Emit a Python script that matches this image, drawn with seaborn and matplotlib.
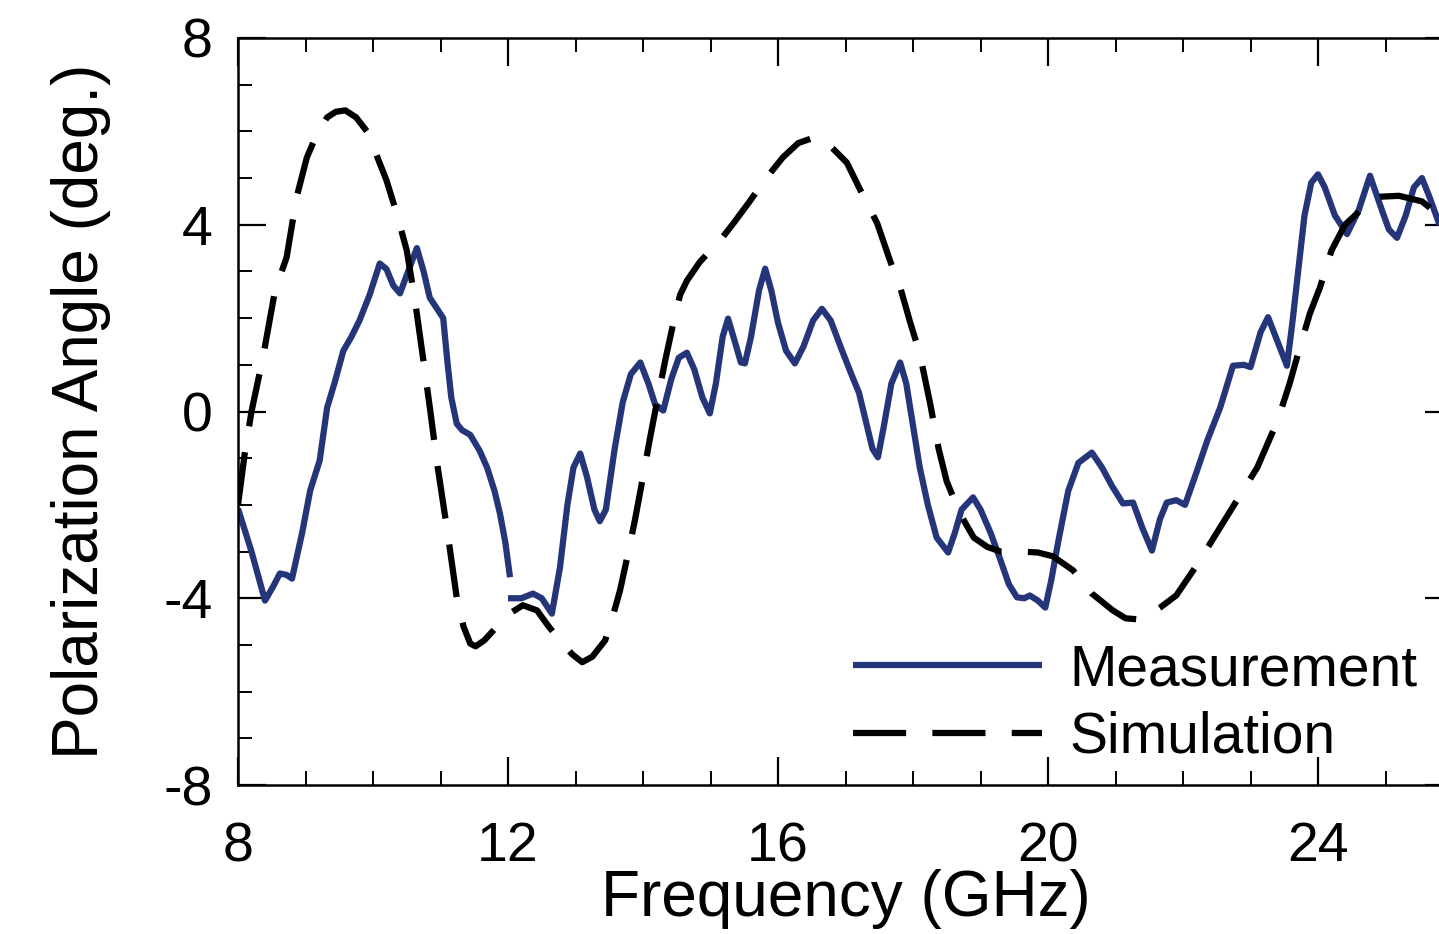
import numpy as np
import pandas as pd
import matplotlib
matplotlib.use("Agg")
import matplotlib.pyplot as plt
import seaborn as sns
from matplotlib.ticker import MultipleLocator

# ---------------- data ----------------
meas1_f = [8.0, 8.2, 8.4, 8.52, 8.62, 8.72, 8.8, 8.95, 9.07, 9.21, 9.32, 9.44, 9.56,
           9.68, 9.8, 9.95, 10.1, 10.2, 10.3, 10.4, 10.52, 10.65, 10.75, 10.84, 11.04,
           11.1, 11.16, 11.24, 11.32, 11.44, 11.58, 11.69, 11.8, 11.88, 11.96, 12.03]
meas1_v = [-2.08, -3.0, -4.05, -3.75, -3.47, -3.5, -3.58, -2.6, -1.69, -1.05, 0.08, 0.66, 1.3,
           1.6, 1.95, 2.5, 3.17, 3.05, 2.7, 2.53, 3.0, 3.5, 3.0, 2.44, 2.0,
           1.1, 0.3, -0.26, -0.4, -0.5, -0.84, -1.2, -1.7, -2.18, -2.8, -3.55]

meas2_f = [12.0, 12.2, 12.37, 12.5, 12.65, 12.77, 12.88, 12.97, 13.07, 13.17, 13.28, 13.36,
           13.45, 13.58, 13.7, 13.82, 13.96, 14.08, 14.18, 14.3, 14.42, 14.53, 14.65, 14.76,
           14.88, 14.99, 15.08, 15.18, 15.26, 15.36, 15.45, 15.51, 15.6, 15.72, 15.81, 15.9,
           16.0, 16.12, 16.25, 16.38, 16.52, 16.65, 16.78, 16.95, 17.1, 17.2, 17.3, 17.4,
           17.48, 17.57, 17.68, 17.81, 17.9, 18.0, 18.1, 18.22, 18.35, 18.52, 18.62, 18.72,
           18.89, 19.0, 19.15, 19.3, 19.42, 19.54, 19.65, 19.73, 19.85, 19.96, 20.05, 20.15,
           20.3, 20.45, 20.65, 20.8, 20.95, 21.11, 21.26, 21.4, 21.54, 21.66, 21.76, 21.9,
           22.03, 22.2, 22.36, 22.55, 22.74, 22.9, 23.0, 23.15, 23.26, 23.4, 23.54, 23.62,
           23.69, 23.8, 23.9, 24.0, 24.1, 24.25, 24.43, 24.6, 24.77, 24.95, 25.05, 25.17,
           25.3, 25.42, 25.54, 25.65, 25.8]
meas2_v = [-4.0, -4.0, -3.9, -4.0, -4.33, -3.34, -2.0, -1.2, -0.9, -1.4, -2.1, -2.35,
           -2.1, -0.8, 0.2, 0.8, 1.05, 0.6, 0.15, 0.02, 0.7, 1.15, 1.26, 0.9,
           0.3, -0.04, 0.6, 1.6, 1.99, 1.5, 1.05, 1.03, 1.6, 2.6, 3.06, 2.6,
           1.9, 1.3, 1.03, 1.4, 1.95, 2.2, 1.95, 1.3, 0.75, 0.4, -0.2, -0.8,
           -0.98, -0.3, 0.6, 1.05, 0.6, -0.3, -1.2, -2.0, -2.7, -3.02, -2.6, -2.1,
           -1.84, -2.1, -2.6, -3.2, -3.7, -3.98, -4.0, -3.94, -4.05, -4.2, -3.6, -2.8,
           -1.7, -1.1, -0.88, -1.2, -1.6, -1.97, -1.95, -2.5, -2.98, -2.3, -1.95, -1.9,
           -2.0, -1.3, -0.62, 0.08, 0.98, 1.0, 0.95, 1.7, 2.02, 1.5, 0.98, 1.9,
           2.8, 4.2, 4.9, 5.08, 4.8, 4.2, 3.8, 4.3, 5.05, 4.3, 3.9, 3.72,
           4.2, 4.8, 5.0, 4.6, 4.0]

sim_f = [8.0, 8.1, 8.2, 8.37, 8.55, 8.72, 8.87, 9.02, 9.17, 9.32, 9.45, 9.59, 9.75, 9.91,
         10.05, 10.2, 10.35, 10.5, 10.62, 10.74, 10.85, 10.95, 11.1, 11.24, 11.34, 11.44,
         11.52, 11.65, 11.84, 12.0, 12.22, 12.43, 12.6, 12.77, 12.95, 13.1, 13.25, 13.44,
         13.55, 13.66, 13.77, 13.88, 14.0, 14.1, 14.22, 14.33, 14.45, 14.55, 14.65, 14.84,
         15.0, 15.14, 15.35, 15.58, 15.8, 16.07, 16.3, 16.5, 16.65, 16.8, 17.02, 17.2,
         17.47, 17.66, 17.81, 17.96, 18.1, 18.25, 18.38, 18.5, 18.7, 18.9, 19.1, 19.3,
         19.6, 19.85, 20.07, 20.37, 20.65, 20.96, 21.15, 21.32, 21.5, 21.66, 21.9, 22.2,
         22.5, 22.8, 23.1, 23.4, 23.58, 23.73, 23.88, 24.03, 24.2, 24.4, 24.57, 24.75,
         24.92, 25.2, 25.54, 25.8]
sim_v = [-2.0, -0.9, 0.0, 1.16, 2.6, 3.3, 4.6, 5.44, 5.95, 6.3, 6.42, 6.45, 6.3, 6.0,
         5.5, 4.95, 4.25, 3.45, 2.4, 1.16, 0.0, -1.11, -2.55, -3.98, -4.6, -4.97,
         -5.03, -4.9, -4.6, -4.35, -4.15, -4.26, -4.6, -4.9, -5.2, -5.37, -5.25, -4.9,
         -4.4, -3.83, -3.1, -2.33, -1.4, -0.6, 0.3, 1.1, 1.9, 2.5, 2.8, 3.2,
         3.45, 3.66, 4.05, 4.5, 4.95, 5.44, 5.75, 5.85, 5.85, 5.65, 5.33, 4.8,
         4.03, 3.23, 2.66, 1.9, 1.24, 0.2, -0.8, -1.5, -2.2, -2.7, -2.9, -3.0,
         -3.0, -3.02, -3.1, -3.4, -3.9, -4.26, -4.43, -4.45, -4.35, -4.2, -3.94, -3.3,
         -2.6, -1.9, -1.2, -0.2, 0.6, 1.37, 2.1, 2.66, 3.45, 4.0, 4.23, 4.5,
         4.6, 4.62, 4.5, 4.2]

x_ticks = [8, 12, 16, 20, 24]
y_ticks = [-8, -4, 0, 4, 8]
x_label = "Frequency (GHz)"
y_label = "Polarization Angle (deg.)"
series_names = ["Measurement", "Simulation"]

# ---------------- style ----------------
sns.set_theme(style="ticks")
plt.rcParams["font.family"] = ["Liberation Sans", "DejaVu Sans"]

meas_color = "#25357a"
LW = 4.5

fig = plt.figure(figsize=(14.39, 9.34), dpi=100)
ax = fig.add_axes([238 / 1439, (934 - 785) / 934, 1215 / 1439, 747 / 934])

df_m1 = pd.DataFrame({"f": meas1_f, "v": meas1_v})
df_m2 = pd.DataFrame({"f": meas2_f, "v": meas2_v})
df_s = pd.DataFrame({"f": sim_f, "v": sim_v})

sns.lineplot(data=df_m1, x="f", y="v", ax=ax, color=meas_color, lw=LW,
             sort=False, label=series_names[0], solid_capstyle="butt",
             solid_joinstyle="round")
sns.lineplot(data=df_m2, x="f", y="v", ax=ax, color=meas_color, lw=LW,
             sort=False, solid_capstyle="butt", solid_joinstyle="round")
sns.lineplot(data=df_s, x="f", y="v", ax=ax, color="black", lw=LW,
             sort=False, label=series_names[1])
sim_line = ax.lines[-1]
sim_line.set_dashes((8.5, 4.2))
sim_line.set_dash_capstyle("butt")
sim_line.set_dash_joinstyle("round")

ax.set_xlim(8, 26)
ax.set_ylim(-8, 8)
ax.set_xticks(x_ticks)
ax.set_yticks(y_ticks)
ax.set_xticklabels([str(t) for t in x_ticks])
ax.set_yticklabels([str(t) for t in y_ticks])
ax.xaxis.set_minor_locator(MultipleLocator(1))
ax.yaxis.set_minor_locator(MultipleLocator(1))

for s in ax.spines.values():
    s.set_linewidth(1.8)
    s.set_color("black")
    s.set_visible(True)

ax.tick_params(which="both", direction="in", top=True, right=True, color="black")
ax.tick_params(which="major", length=20, width=1.6, labelsize=40, colors="black")
ax.tick_params(axis="x", which="major", pad=26)
ax.tick_params(axis="y", which="major", pad=18)
ax.tick_params(which="minor", length=10, width=1.4)

ax.set_xlabel(x_label, fontsize=46, labelpad=-3, color="black")
ax.set_ylabel(y_label, fontsize=46, labelpad=38, color="black")

leg = ax.legend(loc="upper left", bbox_to_anchor=(0.506, 0.19), frameon=False,
                fontsize=41, handlelength=3.33, handletextpad=0.47,
                labelspacing=0.24, borderpad=0, borderaxespad=0)
for t in leg.get_texts():
    t.set_color("black")
for h in leg.get_lines():
    h.set_linewidth(LW)

ax.set_facecolor("white")
fig.patch.set_facecolor("white")
fig.savefig("out.png", dpi=100, facecolor="white")
